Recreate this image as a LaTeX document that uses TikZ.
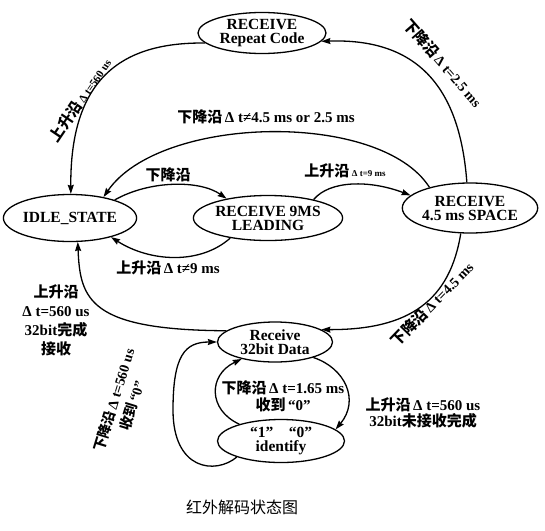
\documentclass[tikz,border=0pt]{standalone}
\usepackage{fontspec}
\setmainfont{Liberation Serif}
\newfontfamily\cjk{Noto Sans CJK SC}
\usetikzlibrary{shapes.geometric,arrows.meta}
\newcommand{\zh}[1]{{\cjk\bfseries #1}}
\newcommand{\fsz}[1]{\fontsize{#1}{#1}\selectfont}
\begin{document}
\begin{tikzpicture}[x=1pt,y=-1pt,
  state/.style={ellipse,draw,line width=1.3pt,inner sep=0pt,align=center,
    font=\bfseries\fontsize{15.5}{14}\selectfont},
  tr/.style={line width=1.3pt,-{Stealth[length=9pt,width=6pt,inset=1pt]}},
  lab/.style={inner sep=0pt,align=center,font=\bfseries\fontsize{15}{17}\selectfont}]
\useasboundingbox (0,0) rectangle (545,530);
% states
\node[state,minimum width=128pt,minimum height=41pt] (rep) at (262,33) {RECEIVE\\Repeat Code};
\node[state,minimum width=125pt,minimum height=47pt] (idle) at (70,218) {IDLE\_STATE};
\node[state,minimum width=122pt,minimum height=45pt] (lead) at (268,218) {RECEIVE 9MS\\LEADING};
\node[state,minimum width=125pt,minimum height=50pt] (space) at (470,208) {RECEIVE\\4.5 ms SPACE};
\node[state,minimum width=115pt,minimum height=40pt] (data) at (275,342) {Receive\\32bit Data};
\node[state,minimum width=127pt,minimum height=43pt] (ident) at (281,441) {“1”\quad “0”\\identify};
% transitions
\draw[tr] (rep.190) .. controls (120,42) and (70,80) .. (idle.88);
\node[lab,rotate=56] (l1) at (80,100) {\zh{上升沿}\,{\fsz{11}Δ t=560 us}};

\draw[tr] (space.97) .. controls (460,90) and (420,38) .. (rep.-8);
\node[lab,rotate=-49] (l2) at (443,63) {\zh{下降沿}\,{\fsz{14}Δ t=2.5 ms}};

\draw[tr] (space.153) .. controls (380,110) and (160,115) .. (idle.32);
\node[lab] (l3) at (266,117) {\zh{下降沿}\,{\fsz{15}Δ t≠4.5 ms or 2.5 ms}};

\draw[tr] (idle.22) .. controls (150,180) and (200,180) .. (lead.155);
\node[lab] (l4) at (168,175) {\zh{下降沿}};

\draw[tr] (lead.22) .. controls (330,180) and (370,180) .. (space.168);
\node[lab] (l5) at (345,171) {\zh{上升沿}\,{\fsz{9}Δ t=9 ms}};

\draw[tr] (lead.208) .. controls (200,265) and (150,262) .. (idle.-25);
\node[lab] (l6) at (168,268) {\zh{上升沿}\,{\fsz{15}Δ t≠9 ms}};

\draw[tr] (space.-110) .. controls (450,300) and (410,330) .. (data.15);
\node[lab,rotate=46] (l7) at (432,304) {\zh{下降沿}\,{\fsz{14}Δ t=4.5 ms}};

\draw[tr] (data.167) .. controls (90,330) and (80,300) .. (idle.-72);
\node[lab,font=\bfseries\fontsize{15}{19}\selectfont] (l8) at (56,320) {\zh{上升沿}\\Δ t=560 us\\32bit\zh{完成}\\\zh{接收}};

\draw[tr] (ident.200) .. controls (215,475) and (173,470) .. (173,410)
  .. controls (173,355) and (185,342) .. (data.west);
\node[lab,rotate=73,font=\bfseries\fontsize{14}{19}\selectfont] (l9) at (123,403) {\zh{下降沿}\,Δ t=560 us\\\zh{收到}\,“0”};

\draw[tr] (ident.158) .. controls (208,410) and (208,375) .. (data.207);
\node[lab,font=\bfseries\fontsize{15}{17}\selectfont] (l10) at (283,396) {\zh{下降沿}\,Δ t=1.65 ms\\\zh{收到}\,“0”};

\draw[tr] (data.-22) .. controls (345,368) and (360,400) .. (ident.12);
\node[lab,font=\bfseries\fontsize{15}{16}\selectfont] (l11) at (423,413) {\zh{上升沿}\,Δ t=560 us\\32bit\zh{未接收完成}};

\node[inner sep=0pt] (cap) at (242,507) {\cjk\fsz{16}红外解码状态图};
\end{tikzpicture}
\end{document}
